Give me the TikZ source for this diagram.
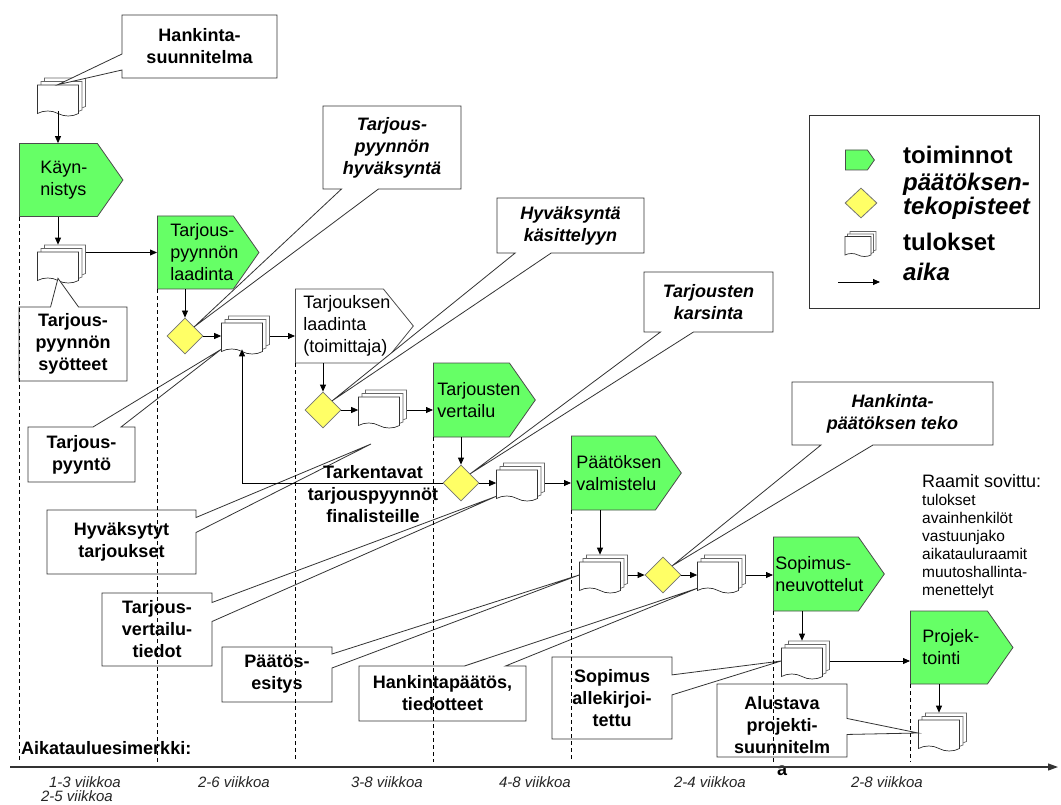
\documentclass[tikz,border=0pt]{standalone}
\usepackage{fontspec}
\setmainfont{Liberation Sans}
\usetikzlibrary{arrows.meta,shapes.geometric,shapes.symbols,shapes.callouts,shadows}
\definecolor{funcgreen}{RGB}{102,255,102}
\definecolor{decyellow}{RGB}{255,255,102}
\hyphenpenalty=10000
\exhyphenpenalty=10000

\begin{document}
\begin{tikzpicture}[x=1pt, y=-1pt,
  func/.style={signal, signal to=east, signal pointer angle=110, draw=black!70, fill=funcgreen, line width=0.8pt, align=left, inner ysep=0pt, minimum height=73pt, font=\fontsize{18}{22}\selectfont},
  dec/.style={diamond, draw=black!55, fill=decyellow, line width=0.8pt, minimum width=36pt, minimum height=36pt, inner sep=0pt},
  doc/.style={tape, tape bend top=none, tape bend bottom=out and in, tape bend height=5pt, draw=black!80, fill=white, line width=0.7pt, minimum width=41pt, minimum height=31pt, inner sep=0pt,
    copy shadow={shadow xshift=2*#1, shadow yshift=-2*#1, draw=black!60, fill=white, line width=0.7pt},
    copy shadow={shadow xshift=#1, shadow yshift=-#1, draw=black!60, fill=white, line width=0.7pt}},
  doc/.default=3.5,
  note/.style={rectangle callout, draw=black!80, fill=white, line width=0.8pt, align=center, inner sep=0pt, font=\fontsize{18}{22}\selectfont\bfseries},
  inote/.style={note, font=\fontsize{18}{22}\selectfont\bfseries\itshape},
  flow/.style={-{Triangle[length=7pt,width=6pt]}, line width=0.8pt},
  fromdoc/.style={shorten <=7pt},
  todoc/.style={shorten >=7pt},
  phase/.style={dash pattern=on 4pt off 3pt, line width=0.7pt},
  weeks/.style={font=\fontsize{15}{18}\selectfont\itshape, text=black!85, inner sep=0pt}]

\useasboundingbox[fill=white] (0,0) rectangle (1061,805);

\node[doc] (D1) at (58,98) {};
\node[func, text width=36pt, inner xsep=21pt, anchor=west] (F1) at (19,180) {Käyn-\\nistys};
\node[doc] (D2) at (58,265) {};
\node[func, text width=50pt, inner xsep=13pt, anchor=west] (F2) at (157,252.5) {Tarjous-\\pyynnön\\laadinta};
\node[dec] (K1) at (185,336) {};
\node[doc] (D3) at (242,336) {};
\node[func, fill=white, signal pointer angle=102, minimum height=74pt, text width=72pt, inner xsep=8pt, anchor=west] (T1) at (295,326) {Tarjouksen\\laadinta\\(toimittaja)};
\node[dec] (K2) at (323,410) {};
\node[doc] (D4) at (379,410) {};
\node[func, minimum height=74pt, text width=68pt, inner xsep=4pt, anchor=west] (F3) at (433,400) {Tarjousten\\vertailu};
\node[dec] (K3) at (461,483) {};
\node[doc] (D5) at (517,483) {};
\node[func, minimum height=74pt, text width=74pt, inner xsep=5pt, anchor=west] (F4) at (571,473) {Päätöksen\\valmistelu};
\node[doc] (D6) at (600,575) {};
\node[dec] (K4) at (663,575) {};
\node[doc] (D7) at (718,575) {};
\node[func, minimum height=74pt, text width=81pt, inner xsep=2pt, anchor=west] (F5) at (773,574) {Sopimus-\\neuvottelut};
\node[doc] (D8) at (802,661) {};
\node[func, text width=53pt, inner xsep=12pt, anchor=west] (F6) at (910,647.5) {Projek-\\tointi};
\node[doc] (D9) at (939,733) {};
\coordinate (H1) at (371,444);

\node[note, minimum width=155pt, minimum height=63pt, callout absolute pointer={(D1.north)}, callout pointer width=16pt] (C1) at (199.5,46.5) {Hankinta-\\suunnitelma};
\node[note, minimum width=108pt, minimum height=74pt, callout absolute pointer={(D2.south)}, callout pointer width=28pt] (C2) at (73,344) {Tarjous-\\pyynnön\\syötteet};
\node[inote, minimum width=138pt, minimum height=83pt, callout absolute pointer={(K1.north east)}, callout pointer width=37pt] (C3) at (392,147.5) {Tarjous-\\pyynnön\\hyväksyntä};
\node[inote, minimum width=147pt, minimum height=55pt, callout absolute pointer={(K2.north east)}, callout pointer width=36pt] (C4) at (570.5,225.5) {Hyväksyntä\\käsittelyyn};
\node[inote, minimum width=129pt, minimum height=60pt, callout absolute pointer={(K3.north east)}, callout pointer width=33pt] (C5) at (708.5,302) {Tarjousten\\karsinta};
\node[inote, minimum width=201pt, minimum height=63pt, callout absolute pointer={(K4.north east)}, callout pointer width=52pt] (C6) at (892.5,413.5) {Hankinta-\\päätöksen teko};
\node[note, minimum width=107pt, minimum height=55pt, callout absolute pointer={(D3.south west)}, callout pointer width=28pt] (C7) at (81.5,454.5) {Tarjous-\\pyyntö};
\node[note, minimum width=149pt, minimum height=64pt, callout absolute pointer={(H1)}, callout pointer width=15pt] (C8) at (121.5,542) {Hyväksytyt\\tarjoukset};
\node[note, minimum width=110pt, minimum height=73pt, callout absolute pointer={(D5.south west)}, callout pointer width=19pt] (C9) at (157,629.5) {Tarjous-\\vertailu-\\tiedot};
\node[note, minimum width=110pt, minimum height=55pt, callout absolute pointer={(D6.west)}, callout pointer width=14pt] (C10) at (277,674.5) {Päätös-\\esitys};
\node[note, minimum width=167pt, minimum height=55pt, callout absolute pointer={(D7.south west)}, callout pointer width=41pt] (C11) at (442.5,693.5) {Hankintapäätös,\\tiedotteet};
\node[note, minimum width=120pt, minimum height=82pt, callout absolute pointer={(D8.west)}, callout pointer width=20pt] (C12) at (612,698) {Sopimus\\allekirjoi-\\tettu};
\node[note, minimum width=130pt, minimum height=73pt, callout absolute pointer={(D9.west)}, callout pointer width=16pt] (C13) at (782,720.5) {};
\node[align=center, inner sep=0pt, font=\fontsize{18}{22}\selectfont\bfseries] (C14) at (782,736) {Alustava\\projekti-\\suunnitelm\\a};

\draw[flow] (D1.south) -- (D1.south |- F1.north);
\draw[flow, todoc] (D2.north |- F1.south) -- (D2.north);
\draw[flow, fromdoc] (F2.west -| D2.east) -- (F2.west);
\draw[flow] (K1.north |- F2.south) -- (K1.north);
\draw[flow] (K1.east) -- (D3.west);
\draw[flow, fromdoc] (D3.east) -- (D3.east -| T1.west);
\draw[flow] (K2.north |- T1.south) -- (K2.north);
\draw[flow] (K2.east) -- (D4.west);
\draw[flow, fromdoc] (D4.east) -- (D4.east -| F3.west);
\draw[flow] (K3.north |- F3.south) -- (K3.north);
\draw[flow] (K3.east) -- (D5.west);
\draw[flow, fromdoc] (D5.east) -- (D5.east -| F4.west);
\draw[flow, todoc] (D6.north |- F4.south) -- (D6.north);
\draw[flow, fromdoc] (D6.east) -- (K4.west);
\draw[flow] (K4.east) -- (D7.west);
\draw[flow, fromdoc] (D7.east) -- (D7.east -| F5.west);
\draw[flow, todoc] (D8.north |- F5.south) -- (D8.north);
\draw[flow, fromdoc] (D8.east) -- (D8.east -| F6.west);
\draw[flow, todoc] (D9.north |- F6.south) -- (D9.north);
\draw[flow] (K3.west) -| (D3.south);

\node[align=center, inner sep=0pt, font=\fontsize{18}{22}\selectfont\bfseries] (R1) at (373,494) {Tarkentavat\\tarjouspyynnöt\\finalisteille};
\node[anchor=north west, align=left, inner sep=0pt, font=\fontsize{15.5}{18}\selectfont] (S1) at (922,474) {{\fontsize{18}{22}\selectfont Raamit sovittu:}\\tulokset\\avainhenkilöt\\vastuunjako\\aikatauluraamit\\muutoshallinta-\\menettelyt};

\node[draw=black!80, line width=0.8pt, minimum width=230pt, minimum height=193pt] (L0) at (924,211.5) {};
\node[func, minimum height=20pt, text width=22pt, inner xsep=0pt, anchor=west] (L1) at (845,160) {};
\node[dec, minimum width=32pt, minimum height=30pt] (L2) at (861,203) {};
\node[doc=2.5, minimum width=26pt, minimum height=20pt, tape bend height=3pt] (L3) at (858,245) {};
\coordinate (L4) at (838,282);
\coordinate (L5) at (880,282);
\draw[flow] (L4) -- (L5);
\node[anchor=west, inner sep=0pt, font=\fontsize{24}{24}\selectfont\bfseries] (L6) at (903,155) {toiminnot};
\node[anchor=west, align=left, inner sep=0pt, font=\fontsize{24}{24}\selectfont\bfseries\itshape] (L7) at (903,196) {päätöksen-\\tekopisteet};
\node[anchor=west, inner sep=0pt, font=\fontsize{24}{24}\selectfont\bfseries] (L8) at (903,242) {tulokset};
\node[anchor=west, inner sep=0pt, font=\fontsize{24}{24}\selectfont\bfseries\itshape] (L9) at (903,272) {aika};

\foreach \f in {F1,F2,T1,F3,F4,F5,F6}
  \draw[phase] (\f.west |- \f.south) -- (\f.west |- 0,762);

\coordinate (A1) at (10,767);
\coordinate (A2) at (1058,767);
\draw[-{Triangle[length=10pt,width=7pt]}, line width=1.2pt, black!80] (A1) -- (A2);
\node[anchor=west, inner sep=0pt, font=\fontsize{18}{22}\selectfont\bfseries] (A0) at (21,748) {Aikatauluesimerkki:};
\node[weeks] (W1) at (85,782) {1-3 viikkoa};
\node[weeks] (W2) at (77,796) {2-5 viikkoa};
\node[weeks] (W3) at (234,782) {2-6 viikkoa};
\node[weeks] (W4) at (387,782) {3-8 viikkoa};
\node[weeks] (W5) at (535,782) {4-8 viikkoa};
\node[weeks] (W6) at (710,782) {2-4 viikkoa};
\node[weeks] (W7) at (887,782) {2-8 viikkoa};
\end{tikzpicture}
\end{document}
